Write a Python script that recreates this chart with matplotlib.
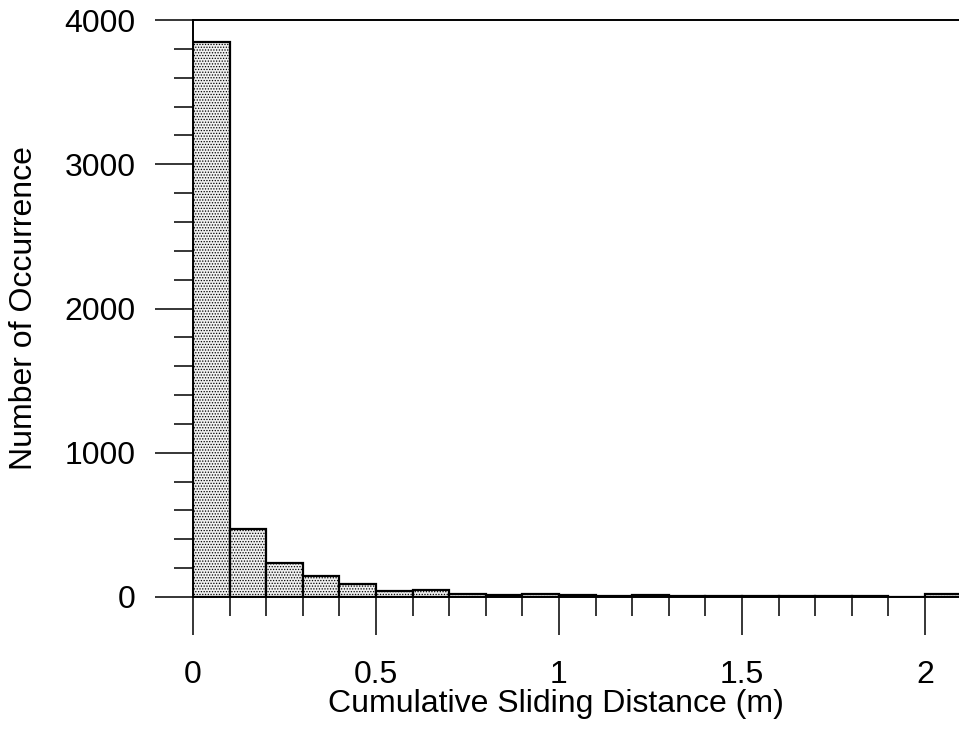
import numpy as np
import matplotlib
matplotlib.use("Agg")
from matplotlib import pyplot as plt
from matplotlib.ticker import MultipleLocator, FixedLocator

plt.rcParams['font.family'] = ['Liberation Sans', 'DejaVu Sans']
plt.rcParams['hatch.color'] = '#b4b4b4'
plt.rcParams['hatch.linewidth'] = 0.6

# histogram bins (m) and counts
bin_edges = [0.0, 0.1, 0.2, 0.3, 0.4, 0.5, 0.6, 0.7, 0.8, 0.9, 1.0,
             1.1, 1.2, 1.3, 1.4, 1.5, 1.6, 1.7, 1.8, 1.9, 2.0, 2.1]
counts = [3845, 469, 236, 146, 90, 42, 48, 20, 15, 18, 13,
          10, 12, 8, 6, 4, 4, 4, 5, 3, 18]
x_ticks = [0, 0.5, 1, 1.5, 2]
x_tick_labels = ["0", "0.5", "1", "1.5", "2"]
y_ticks = [0, 1000, 2000, 3000, 4000]

fig = plt.figure(figsize=(9.59, 7.34), dpi=100)
ax = fig.add_axes([193 / 959, 1 - 597 / 734, 1 - 193 / 959, 577 / 734])

lefts = np.array(bin_edges[:-1])
widths = np.diff(bin_edges)
ax.bar(lefts, counts, width=widths, align='edge', facecolor='#f0f0f0',
       edgecolor='black', linewidth=1.6, hatch='......', zorder=2)

ax.set_xlim(0, 2.093)
ax.set_ylim(0, 4000)

ax.xaxis.set_major_locator(FixedLocator(x_ticks))
ax.set_xticklabels(x_tick_labels)
ax.xaxis.set_minor_locator(MultipleLocator(0.1))
ax.yaxis.set_major_locator(FixedLocator(y_ticks))
ax.yaxis.set_minor_locator(MultipleLocator(200))

ax.tick_params(which='major', direction='out', length=27.5, width=1.1,
               labelsize=23, color='black')
ax.tick_params(which='minor', direction='out', length=13.7, width=1.1)
ax.tick_params(axis='x', which='major', pad=18)
ax.tick_params(axis='y', which='major', pad=14)

for side in ['left', 'bottom', 'top']:
    ax.spines[side].set_linewidth(1.4)
ax.spines['right'].set_visible(False)

ax.set_xlabel("Cumulative Sliding Distance (m)", fontsize=23)
ax.set_ylabel("Number of Occurrence", fontsize=23)
ax.xaxis.label.set_va('center')
ax.yaxis.label.set_va('center')
ax.xaxis.set_label_coords((556 - 193) / 766, (597 - 704) / 577)
ax.yaxis.set_label_coords((24 - 193) / 766, 0.5)

fig.savefig("out.png", dpi=100)
